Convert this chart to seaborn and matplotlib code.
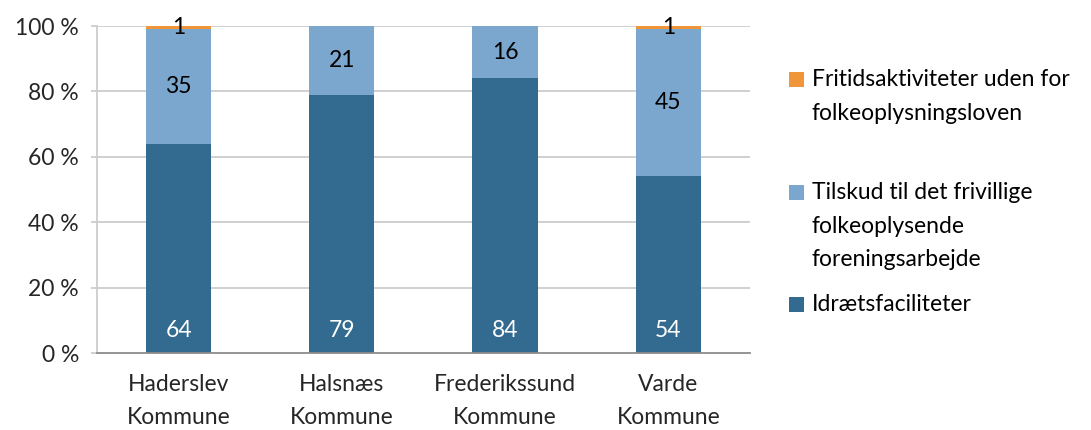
import matplotlib
matplotlib.use("Agg")
import matplotlib.pyplot as plt
from matplotlib.patches import Rectangle
from matplotlib.ticker import FixedLocator
import numpy as np
import pandas as pd
import seaborn as sns

# ------------------------------------------------------------
# Data
# ------------------------------------------------------------
kommuner = ["Haderslev\nKommune", "Halsnæs\nKommune", "Frederikssund\nKommune", "Varde\nKommune"]
idraet = [64, 79, 84, 54]
tilskud = [35, 21, 16, 45]
fritid = [1, 0, 0, 1]

series_names = [
    "Fritidsaktiviteter uden for\nfolkeoplysningsloven",
    "Tilskud til det frivillige\nfolkeoplysende\nforeningsarbejde",
    "Idrætsfaciliteter",
]
yticks = [0, 20, 40, 60, 80, 100]

DARK = "#336A90"
LIGHT = "#7BA7CF"
ORANGE = "#F0963A"
GRID = "#CDCDCD"
AXIS = "#8C8C8C"

sns.set_style("white")
plt.rcParams["font.family"] = ["Lato", "DejaVu Sans"]
FS = 16.5

df = pd.DataFrame({"kommune": kommuner, "idraet": idraet, "tilskud": tilskud, "fritid": fritid})
df["cum2"] = df["idraet"] + df["tilskud"]
df["cum3"] = df["cum2"] + df["fritid"]

fig = plt.figure(figsize=(10.91, 4.30), dpi=100)
ax = fig.add_axes([0.0889, 0.179, 0.5985, 0.7605])

# gridlines behind the bars
for v in yticks[1:]:
    ax.axhline(v, color=GRID, lw=1.3, zorder=0)

# stacked by overlaying cumulative totals
bw = 0.4
sns.barplot(data=df, x="kommune", y="cum3", color=ORANGE, width=bw, saturation=1,
            linewidth=0, ax=ax, zorder=2)
sns.barplot(data=df, x="kommune", y="cum2", color=LIGHT, width=bw, saturation=1,
            linewidth=0, ax=ax, zorder=2)
sns.barplot(data=df, x="kommune", y="idraet", color=DARK, width=bw, saturation=1,
            linewidth=0, ax=ax, zorder=2)

for i, row in df.iterrows():
    ax.text(i, 7, f"{row['idraet']}", ha="center", va="center", color="white", fontsize=FS, zorder=3)
    ax.text(i, row["idraet"] + row["tilskud"] / 2, f"{row['tilskud']}", ha="center",
            va="center", color="black", fontsize=FS, zorder=3)
    if row["fritid"] > 0:
        ax.text(i, row["cum2"] + row["fritid"] / 2, f"{row['fritid']}", ha="center",
                va="center", color="black", fontsize=FS, zorder=3)

ax.set_xlim(-0.5, len(kommuner) - 0.5)
ax.set_ylim(0, 100)
ax.set_yticks(yticks)
ax.set_yticklabels([f"{v} %" for v in yticks], fontsize=FS)
ax.set_xticklabels(kommuner, fontsize=FS, linespacing=1.7)
ax.set_xlabel("")
ax.set_ylabel("")

ax.tick_params(axis="x", which="major", length=0, pad=15)
ax.xaxis.set_minor_locator(FixedLocator(np.arange(-0.5, len(kommuner), 1.0)))
ax.tick_params(axis="x", which="minor", length=5, color=AXIS, width=1.3, direction="out")
ax.tick_params(axis="y", length=4, color=GRID, width=1.3, direction="out", pad=9, left=True)

for side in ["top", "right"]:
    ax.spines[side].set_visible(False)
ax.spines["left"].set_color(GRID)
ax.spines["left"].set_linewidth(1.3)
ax.spines["bottom"].set_color(AXIS)
ax.spines["bottom"].set_linewidth(1.3)
ax.spines["bottom"].set_zorder(4)

# legend drawn by hand to keep Excel-style spacing
W, H = fig.get_size_inches() * fig.dpi
legend_items = [(ORANGE, series_names[0], 72), (LIGHT, series_names[1], 185), (DARK, series_names[2], 297)]
for color, label, ytop in legend_items:
    fig.add_artist(Rectangle((789 / W, 1 - (ytop + 15) / H), 15 / W, 15 / H,
                             transform=fig.transFigure, color=color, lw=0))
    fig.text(812 / W, 1 - (ytop - 3) / H, label, ha="left", va="top", fontsize=FS,
             linespacing=1.75, color="black")

fig.savefig("out.png", dpi=100)
